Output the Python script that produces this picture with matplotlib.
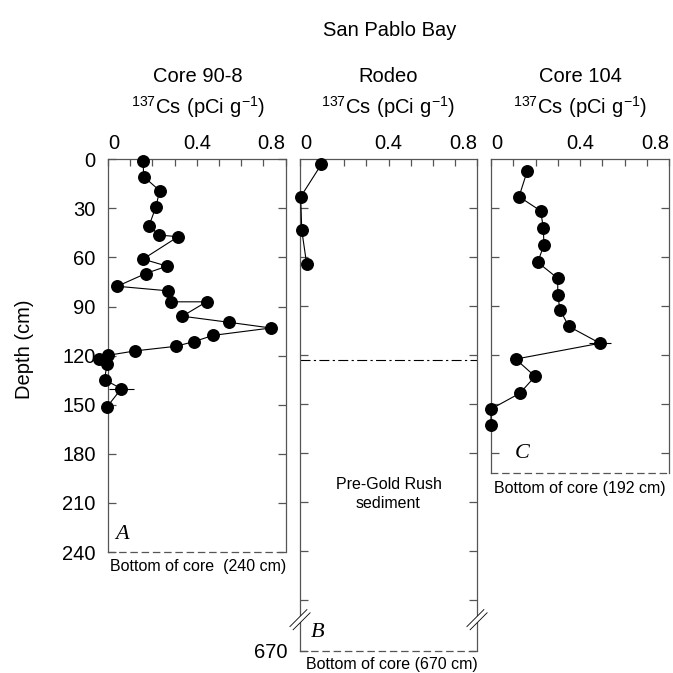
import matplotlib.pyplot as plt
from matplotlib.patches import Polygon

plt.rcParams['font.family'] = ['Liberation Sans', 'DejaVu Sans']
plt.rcParams['mathtext.fontset'] = 'custom'
plt.rcParams['mathtext.rm'] = 'Liberation Sans'

# Core 90-8, depth (cm) and 137Cs activity (pCi/g)
depth_a = [1, 10.6, 19.2, 29.4, 40.6, 46.3, 47.3, 61, 65.3, 69.8, 77.6, 80.4,
           87.1, 87.1, 95.9, 99.6, 103.1, 107.6, 111.4, 114.3, 117.1, 119.8,
           122.2, 124.9, 134.7, 140.2, 151.4]
cs_a = [0.158, 0.161, 0.233, 0.215, 0.185, 0.230, 0.316, 0.158, 0.266, 0.170,
        0.042, 0.272, 0.286, 0.444, 0.335, 0.544, 0.734, 0.474, 0.388, 0.305,
        0.122, 0.0, -0.04, -0.005, -0.015, 0.06, -0.005]
err_a_depth = [140.2]
err_a_cs = [0.06]
err_a = [0.056]

# Rodeo
depth_b = [3, 23, 43.5, 64]
cs_b = [0.097, 0.003, 0.008, 0.03]
gold_rush_depth = 123

# Core 104
depth_c = [7.1, 22.9, 31.6, 41.8, 52.4, 63.1, 72.9, 83.1, 92.2, 102.4, 112.7,
           122.4, 133, 143.3, 153, 162.7]
cs_c = [0.163, 0.126, 0.223, 0.235, 0.238, 0.210, 0.300, 0.300, 0.310, 0.350,
        0.490, 0.111, 0.198, 0.130, 0.0, 0.0]
err_c_depth = [112.7]
err_c_cs = [0.49]
err_c = [0.05]

bottom_a = 240
bottom_b_label = 670
bottom_b_axis = 301    # 670 cm is drawn below the axis break
bottom_c = 192

spine_col = '#555555'
W = H = 673

fig = plt.figure(figsize=(6.73, 6.73), dpi=100)


def px_rect(left, top, right, bottom):
    return [left / W, 1 - bottom / H, (right - left) / W, (bottom - top) / H]


def style_axes(ax, ybottom, yticks):
    ax.set_xlim(0, 0.8)
    ax.set_ylim(ybottom, 0)
    ax.xaxis.tick_top()
    ax.set_xticks([0, 0.1, 0.2, 0.3, 0.4, 0.5, 0.6, 0.7, 0.8])
    ax.set_xticklabels(['0', '', '', '', '0.4', '', '', '', '0.8'])
    ax.set_yticks(yticks)
    ax.tick_params(axis='x', direction='in', length=5, width=0.9,
                   color=spine_col, labelsize=14.5, pad=4.5)
    ax.tick_params(axis='y', direction='in', length=6, width=0.9,
                   color=spine_col, labelsize=14.5, pad=9, right=True)
    lbls = ax.get_xticklabels()
    lbls[0].set_horizontalalignment('left')
    lbls[0].set_x(-0.005)
    lbls[-1].set_horizontalalignment('right')
    for s in ax.spines.values():
        s.set_color(spine_col)
        s.set_linewidth(0.9)
    ax.spines['bottom'].set_linestyle((0, (5, 4)))


def profile(ax, x, y):
    ax.plot(x, y, color='black', lw=0.8, marker='o', ms=8.3,
            clip_on=False, zorder=4)


ax_a = fig.add_axes(px_rect(108, 159.3, 285.5, 552))
ax_b = fig.add_axes(px_rect(300, 159.3, 477, 650.7))
ax_c = fig.add_axes(px_rect(491, 159.3, 669, 472.7))

style_axes(ax_a, bottom_a, list(range(0, 241, 30)))
style_axes(ax_b, bottom_b_axis, list(range(30, 271, 30)) + [bottom_b_axis])
ax_b.set_yticklabels([''] * 9 + [str(bottom_b_label)])
style_axes(ax_c, bottom_c, list(range(30, 181, 30)))
ax_c.set_yticklabels([])

profile(ax_a, cs_a, depth_a)
ax_a.errorbar(err_a_cs, err_a_depth, xerr=err_a, fmt='none', ecolor='black',
              elinewidth=0.8, capsize=0, clip_on=False, zorder=3)
profile(ax_b, cs_b, depth_b)
ax_b.axhline(gold_rush_depth, color='black', lw=0.8, dashes=(9, 3, 2, 3))
profile(ax_c, cs_c, depth_c)
ax_c.errorbar(err_c_cs, err_c_depth, xerr=err_c, fmt='none', ecolor='black',
              elinewidth=0.8, capsize=0, clip_on=False, zorder=3)

# panel letters
ax_a.text(0.062, 229, 'A', family='Liberation Serif', style='italic',
          fontsize=16, ha='center', va='center')
ax_b.text(0.081, 290, 'B', family='Liberation Serif', style='italic',
          fontsize=16, ha='center', va='center')
ax_c.text(0.138, 180, 'C', family='Liberation Serif', style='italic',
          fontsize=16, ha='center', va='center')

ax_b.text(0.4, 205, 'Pre-Gold Rush\nsediment', fontsize=11.5,
          ha='center', va='center', linespacing=1.3)

# axis break marks on the Rodeo core
bw = 177.0
bh = 491.4
yb = 1 - 282 / bottom_b_axis
for xs in (0, 1):
    d = 8.5
    g = 1.6
    ends = [(xs - d / bw, yb - d / bh), (xs + d / bw, yb + d / bh)]
    off = (g / bw, -g / bh)
    poly = Polygon([(ends[0][0] + off[0], ends[0][1] + off[1]),
                    (ends[1][0] + off[0], ends[1][1] + off[1]),
                    (ends[1][0] - off[0], ends[1][1] - off[1]),
                    (ends[0][0] - off[0], ends[0][1] - off[1])],
                   closed=True, transform=ax_b.transAxes, facecolor='white',
                   edgecolor='none', clip_on=False, zorder=5)
    ax_b.add_patch(poly)
    for sgn in (1, -1):
        ax_b.plot([ends[0][0] + sgn * off[0], ends[1][0] + sgn * off[0]],
                  [ends[0][1] + sgn * off[1], ends[1][1] + sgn * off[1]],
                  color='black', lw=0.6, transform=ax_b.transAxes,
                  clip_on=False, zorder=6)

# titles
fig.text(390 / W, 1 - 30 / H, 'San Pablo Bay', fontsize=14.5,
         ha='center', va='center')
unit = r'$\mathregular{^{137}Cs\ (pCi\ g^{-1})}$'
for xc, name in [(198, 'Core 90-8'), (388, 'Rodeo'), (580, 'Core 104')]:
    fig.text(xc / W, 1 - 77 / H, name, fontsize=14.5, ha='center',
             va='center')
    fig.text(xc / W, 1 - 107 / H, unit, fontsize=14.5, ha='center',
             va='center')

fig.text(24 / W, 1 - 349 / H, 'Depth (cm)', fontsize=14.5, rotation=90,
         ha='center', va='center')

fig.text(198 / W, 1 - 567 / H, 'Bottom of core  (240 cm)', fontsize=11.5,
         ha='center', va='center')
fig.text(392 / W, 1 - 665 / H, 'Bottom of core (670 cm)', fontsize=11.5,
         ha='center', va='center')
fig.text(580 / W, 1 - 488 / H, 'Bottom of core (192 cm)', fontsize=11.5,
         ha='center', va='center')

fig.savefig('out.png', dpi=100)
